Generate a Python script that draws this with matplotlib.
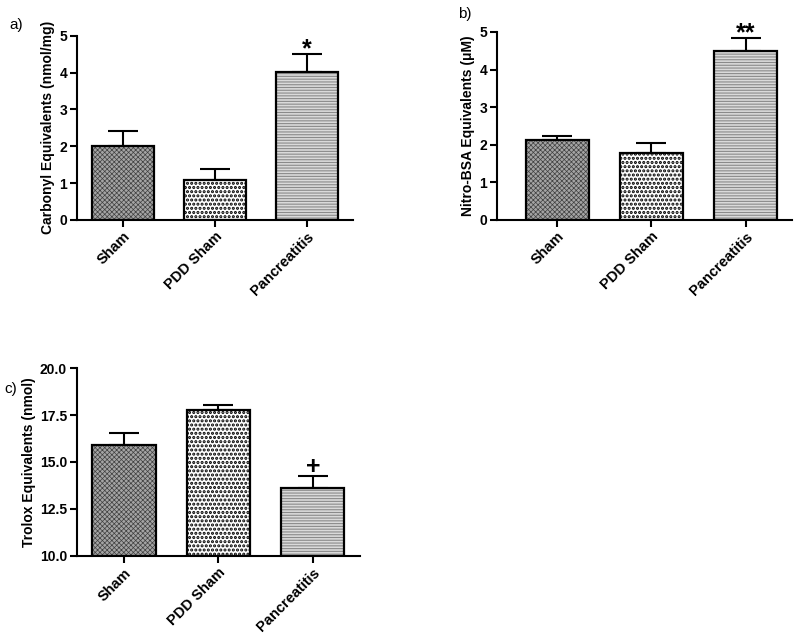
import numpy as np
import matplotlib
matplotlib.use('Agg')
import matplotlib.pyplot as plt
import matplotlib.transforms as mtransforms

plt.rcParams['font.family'] = ['Liberation Sans', 'DejaVu Sans']

groups = ['Sham', 'PDD Sham', 'Pancreatitis']

carbonyl = [2.01, 1.08, 4.02]
carbonyl_err = [0.41, 0.30, 0.49]

nitro = [2.12, 1.77, 4.49]
nitro_err = [0.11, 0.27, 0.34]

trolox = [15.9, 17.77, 13.62]
trolox_err = [0.65, 0.26, 0.63]

# fill pattern per group: face, hatch, hatch colour, hatch width
faces = ['#a4a4a4', 'white', '#dadada']
hatches = ['xxxxxxx', '....', '------']
hatch_colors = ['#404040', 'black', '#8a8a8a']
hatch_lw = [0.5, 1.5, 0.8]


def panel(ax, vals, errs, base, ylim, yticks, ylabel, mark, mark_y, xlim, fmt):
    x = np.arange(len(groups))
    w = 0.67
    # hatch layer first, then black outline on top
    for i in range(len(x)):
        with plt.rc_context({'hatch.linewidth': hatch_lw[i]}):
            ax.bar(x[i], vals[i] - base, bottom=base, width=w, color=faces[i],
                   edgecolor=hatch_colors[i], hatch=hatches[i], linewidth=0, zorder=2)
    ax.bar(x, np.array(vals) - base, bottom=base, width=w, fill=False,
           edgecolor='black', linewidth=1.6, zorder=3)
    ax.errorbar(x, vals, yerr=[np.zeros(len(errs)), errs], fmt='none',
                ecolor='black', elinewidth=1.5, capsize=11, capthick=1.5, zorder=1)
    ax.text(x[2], mark_y, mark, ha='center', va='center', fontsize=18,
            fontweight='bold')
    ax.set_ylim(*ylim)
    ax.set_xlim(*xlim)
    ax.set_yticks(yticks)
    ax.set_yticklabels([fmt.format(t) for t in yticks], fontweight='bold', fontsize=10)
    ax.set_xticks(x)
    ax.set_xticklabels(groups, rotation=45, ha='right', rotation_mode='anchor',
                       fontweight='bold', fontsize=10.5)
    shift = mtransforms.ScaledTranslation(-5 / 72, -2 / 72, fig.dpi_scale_trans)
    for lab in ax.get_xticklabels():
        lab.set_transform(lab.get_transform() + shift)
    ax.set_ylabel(ylabel, fontweight='bold', fontsize=10, labelpad=3)
    for s in ['top', 'right']:
        ax.spines[s].set_visible(False)
    for s in ['left', 'bottom']:
        ax.spines[s].set_linewidth(1.5)
    ax.tick_params(width=1.5, length=5, pad=2)


fig = plt.figure(figsize=(8, 6.39), dpi=100)

ax1 = fig.add_axes([0.096, 0.656, 0.345, 0.288])
panel(ax1, carbonyl, carbonyl_err, 0, (0, 5), [0, 1, 2, 3, 4, 5],
      'Carbonyl Equivalents (nmol/mg)', '*', 4.64, (-0.5, 2.5), '{:.0f}')

ax2 = fig.add_axes([0.621, 0.656, 0.369, 0.294])
panel(ax2, nitro, nitro_err, 0, (0, 5), [0, 1, 2, 3, 4, 5],
      'Nitro-BSA Equivalents (\u03bcM)', '**', 4.96, (-0.64, 2.49), '{:.0f}')

ax3 = fig.add_axes([0.096, 0.130, 0.354, 0.294])
panel(ax3, trolox, trolox_err, 10, (10, 20), [10, 12.5, 15, 17.5, 20],
      'Trolox Equivalents (nmol)', '+', 14.75, (-0.5, 2.5), '{:.1f}')

fig.text(0.012, 0.955, 'a)', fontsize=11)
fig.text(0.572, 0.972, 'b)', fontsize=11)
fig.text(0.006, 0.385, 'c)', fontsize=11)

plt.savefig('out.png', dpi=100)
